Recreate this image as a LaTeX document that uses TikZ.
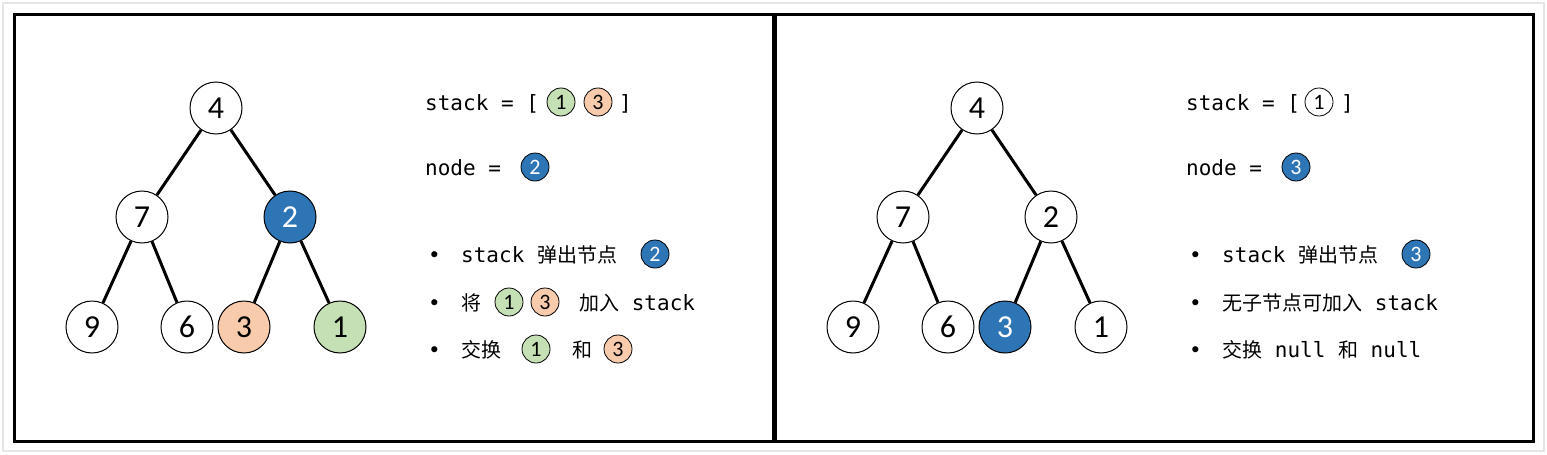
\documentclass[tikz,border=0pt]{standalone}
\usepackage{fontspec}
\setmainfont{Carlito}
\newfontfamily\codefont{DejaVu Sans Mono}
\newfontfamily\cjk{Noto Sans CJK SC}
\definecolor{popblue}{HTML}{2E75B6}
\definecolor{leafgreen}{HTML}{C5E0B4}
\definecolor{leaforange}{HTML}{F8CBAD}
\newcommand{\zh}[1]{{\fontsize{20}{24}\cjk #1}}

\begin{document}
\begin{tikzpicture}[x=1pt, y=-1pt,
    tnode/.style={circle, draw, line width=1pt, minimum size=52pt, inner sep=0pt, fill=white, font=\fontsize{32}{32}\selectfont},
    snode/.style={circle, draw, line width=0.8pt, minimum size=28pt, inner sep=0pt, fill=white, font=\fontsize{22}{22}\selectfont},
    popped/.style={fill=popblue, text=white},
    grn/.style={fill=leafgreen},
    org/.style={fill=leaforange},
    txt/.style={anchor=base west, inner sep=0pt, font=\fontsize{21}{24}\codefont},
    edge/.style={line width=3pt},
    panel/.style={draw, line width=3pt}]
    \useasboundingbox (0,0) rectangle (1547,455);
    \draw[gray!20, line width=1.5pt] (3,3) rectangle (1544,451);
    \draw[panel] (14,14) rectangle (773,441);
    \draw[panel] (775,14) rectangle (1533,441);

    % left panel: tree
    \node[tnode] (a4) at (216,108) {4};
    \node[tnode] (a7) at (142,217) {7};
    \node[tnode, popped] (a2) at (290,217) {2};
    \node[tnode] (a9) at (92,327) {9};
    \node[tnode] (a6) at (187,327) {6};
    \node[tnode, org] (a3) at (244,327) {3};
    \node[tnode, grn] (a1) at (340,327) {1};

    \draw[edge] (a4) -- (a7);
    \draw[edge] (a4) -- (a2);
    \draw[edge] (a7) -- (a9);
    \draw[edge] (a7) -- (a6);
    \draw[edge] (a2) -- (a3);
    \draw[edge] (a2) -- (a1);

    % left panel: text
    \node[txt] (astack) at (425,110) {stack = [};
    \node[snode, grn] (as1) at (561,102) {1};
    \node[snode, org] (as3) at (598,102) {3};
    \node[txt] (aclose) at (619,110) {]};
    \node[txt] (anode) at (425,175) {node =};
    \node[snode, popped] (acur) at (535,167) {2};

    \node[txt] (ab1) at (428,262) {•};
    \node[txt] (at1) at (461,262) {stack \zh{弹出节点}};
    \node[snode, popped] (ac1) at (655,254) {2};
    \node[txt] (ab2) at (428,310) {•};
    \node[txt] (at2) at (461,310) {\zh{将}};
    \node[snode, grn] (ac2) at (509,302) {1};
    \node[snode, org] (ac3) at (545,302) {3};
    \node[txt] (at3) at (579,310) {\zh{加入} stack};
    \node[txt] (ab3) at (428,357) {•};
    \node[txt] (at4) at (461,357) {\zh{交换}};
    \node[snode, grn] (ac4) at (536,349) {1};
    \node[txt] (at5) at (572,357) {\zh{和}};
    \node[snode, org] (ac5) at (618,349) {3};

    % right panel: tree
    \node[tnode] (b4) at (977,108) {4};
    \node[tnode] (b7) at (903,217) {7};
    \node[tnode] (b2) at (1051,217) {2};
    \node[tnode] (b9) at (853,327) {9};
    \node[tnode] (b6) at (948,327) {6};
    \node[tnode, popped] (b3) at (1005,327) {3};
    \node[tnode] (b1) at (1101,327) {1};

    \draw[edge] (b4) -- (b7);
    \draw[edge] (b4) -- (b2);
    \draw[edge] (b7) -- (b9);
    \draw[edge] (b7) -- (b6);
    \draw[edge] (b2) -- (b3);
    \draw[edge] (b2) -- (b1);

    % right panel: text
    \node[txt] (bstack) at (1186,110) {stack = [};
    \node[snode] (bs1) at (1319,102) {1};
    \node[txt] (bclose) at (1341,110) {]};
    \node[txt] (bnode) at (1186,175) {node =};
    \node[snode, popped] (bcur) at (1296,167) {3};

    \node[txt] (bb1) at (1189,262) {•};
    \node[txt] (bt1) at (1222,262) {stack \zh{弹出节点}};
    \node[snode, popped] (bc1) at (1416,254) {3};
    \node[txt] (bb2) at (1189,310) {•};
    \node[txt] (bt2) at (1222,310) {\zh{无子节点可加入} stack};
    \node[txt] (bb3) at (1189,357) {•};
    \node[txt] (bt3) at (1222,357) {\zh{交换} null \zh{和} null};
\end{tikzpicture}
\end{document}
